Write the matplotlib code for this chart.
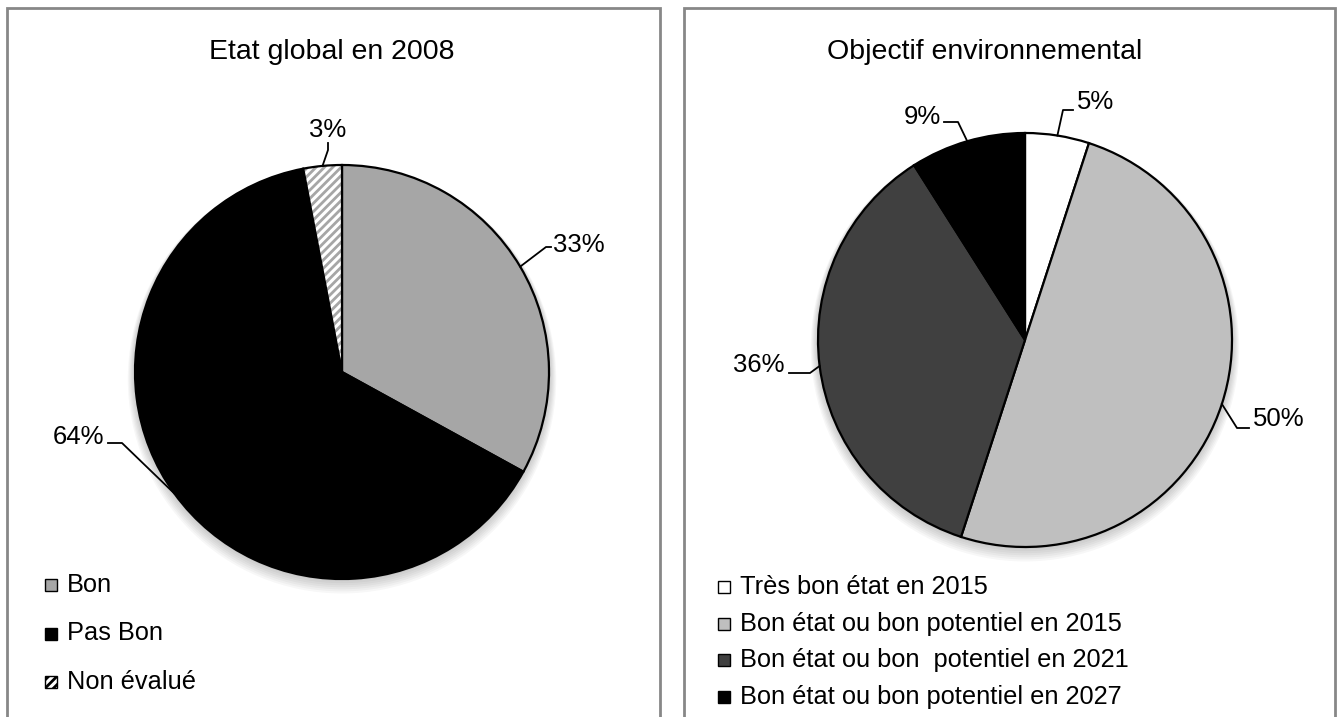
import numpy as np
import matplotlib
matplotlib.use('Agg')
import matplotlib.pyplot as plt
from matplotlib.patches import Rectangle, Wedge, Circle

plt.rcParams['font.family'] = ['Liberation Sans', 'DejaVu Sans']
plt.rcParams['hatch.linewidth'] = 2.0

# data
left_title = 'Etat global en 2008'
left_labels = ['Bon', 'Pas Bon', 'Non évalué']
left_values = [33, 64, 3]

right_title = 'Objectif environnemental'
right_labels = ['Très bon état en 2015',
                'Bon état ou bon potentiel en 2015',
                'Bon état ou bon  potentiel en 2021',
                'Bon état ou bon potentiel en 2027']
right_values = [5, 50, 36, 9]

W, H = 1341, 717
fig = plt.figure(figsize=(W / 100, H / 100), dpi=100)


def fx(px):
    return px / W


def fy(py):
    return 1 - py / H


# panel borders
for x0, x1 in [(7, 660), (684, 1335)]:
    fig.add_artist(Rectangle((fx(x0), fy(730)), fx(x1 - x0), (730 - 8) / H,
                             transform=fig.transFigure, fill=False,
                             edgecolor='#878787', linewidth=2))


def draw_pie(cx, cy, r, values, colors, hatches, leaders, title, tx):
    k = 1.7
    S = r * k
    ax = fig.add_axes([fx(cx - S), fy(cy + S), 2 * S / W, 2 * S / H])
    ax.axis('off')

    # soft shadow
    for i in range(8):
        ax.add_patch(Circle((0, -0.005 * i), 1.0 + 0.005 * i,
                            color='black', alpha=0.03, lw=0, zorder=0))

    wedges, _ = ax.pie(values, startangle=90, counterclock=False, radius=1,
                       colors=colors,
                       wedgeprops=dict(edgecolor='black', linewidth=1.6))
    ax.set_xlim(-k, k)
    ax.set_ylim(-k, k)
    ax.set_aspect('equal')
    for w, h in zip(wedges, hatches):
        w.set_zorder(2)
        if h:
            w.set_hatch(h)
            w.set_edgecolor('#a6a6a6')
            w.set_linewidth(0)
            ax.add_patch(Wedge(w.center, w.r, w.theta1, w.theta2, fill=False,
                               edgecolor='black', linewidth=1.6, zorder=3))

    for w, v, (elbow, end, tpos, ha) in zip(wedges, values, leaders):
        mid = np.deg2rad((w.theta1 + w.theta2) / 2)
        ex, ey = np.cos(mid), np.sin(mid)
        pts = [(ex, ey)] + [((px - cx) / r, (cy - py) / r) for px, py in (elbow, end)]
        xs, ys = zip(*pts)
        ax.plot(xs, ys, color='black', lw=1.3, zorder=4)
        ax.text((tpos[0] - cx) / r, (cy - tpos[1]) / r, f'{v}%', ha=ha,
                va='center', fontsize=18.5, zorder=5)

    fig.text(fx(tx), fy(52), title, ha='center', va='center', fontsize=20.5)
    return wedges


left_leaders = [((546, 247), (551, 247), (553, 245), 'left'),
                ((122, 443), (108, 443), (104, 437), 'right'),
                ((328, 150), (328, 143), (328, 130), 'center')]
draw_pie(342, 372, 207, left_values, ['#a6a6a6', 'black', 'white'],
         [None, None, '////'], left_leaders, left_title, 332)

right_leaders = [((1063, 110), (1073, 110), (1077, 102), 'left'),
                 ((1237, 428), (1249, 428), (1253, 419), 'left'),
                 ((810, 373), (789, 373), (785, 365), 'right'),
                 ((958, 122), (944, 122), (941, 117), 'right')]
draw_pie(1025, 340, 207, right_values, ['white', '#bfbfbf', '#404040', 'black'],
         [None, None, None, None], right_leaders, right_title, 985)


def draw_legend(x, y0, step, labels, colors, hatches):
    for i, (lab, c, h) in enumerate(zip(labels, colors, hatches)):
        y = y0 + i * step
        fig.add_artist(Rectangle((fx(x), fy(y + 6)), fx(12), 12 / H,
                                 transform=fig.transFigure, facecolor=c,
                                 edgecolor='black', linewidth=1, hatch=h))
        fig.text(fx(x + 22), fy(y), lab, ha='left', va='center', fontsize=18.3)


draw_legend(45, 585, 48.5, left_labels, ['#a6a6a6', 'black', 'white'],
            [None, None, '////'])
draw_legend(718, 587, 36.7, right_labels, ['white', '#bfbfbf', '#404040', 'black'],
            [None, None, None, None])

fig.savefig('out.png', dpi=100)
